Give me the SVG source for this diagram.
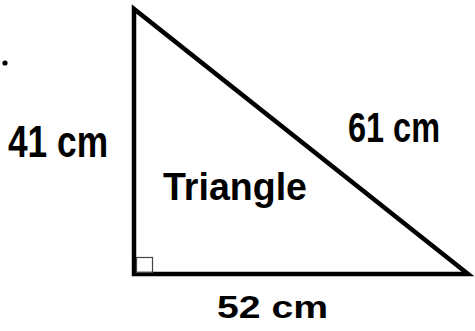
<svg xmlns="http://www.w3.org/2000/svg" width="475" height="331" viewBox="0 0 475 331">
<style>
.lbl{font-family:"Liberation Sans",Arial,sans-serif;font-weight:bold;fill:#000}
.edge{fill:none;stroke:#000;stroke-width:4.5;stroke-linejoin:miter}
</style>
<rect width="475" height="331" fill="#fff"/>
<g id="triangle">
<polygon class="edge" points="134,9 134,274 468,274"/>
<rect x="136.5" y="257.5" width="16" height="15" fill="none" stroke="#444" stroke-width="1.2"/>
<text class="lbl" x="163" y="200" font-size="38" font-weight="600" textLength="144" lengthAdjust="spacingAndGlyphs">Triangle</text>
</g>
<g id="dot"><circle cx="5" cy="63" r="2.6" fill="#000"/></g>
<g id="label-left"><text class="lbl" x="8" y="157" font-size="44" textLength="100" lengthAdjust="spacingAndGlyphs">41 cm</text></g>
<g id="label-hyp"><text class="lbl" x="348" y="142" font-size="42" textLength="92" lengthAdjust="spacingAndGlyphs">61 cm</text></g>
<g id="label-bottom"><text class="lbl" x="217" y="318" font-size="32" textLength="111" lengthAdjust="spacingAndGlyphs">52 cm</text></g>
</svg>
